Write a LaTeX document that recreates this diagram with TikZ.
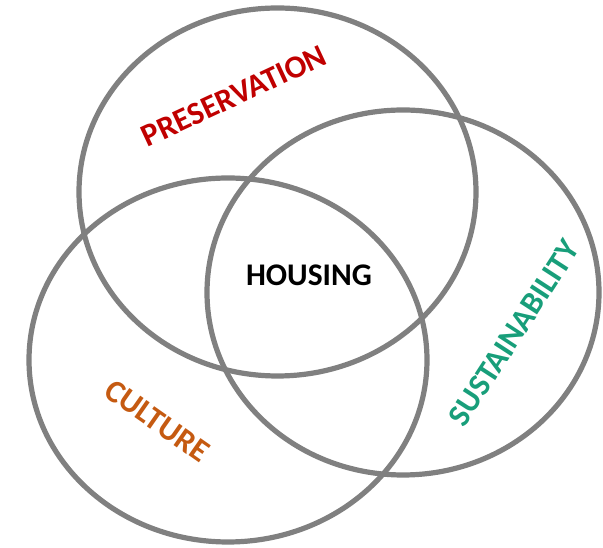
\documentclass[tikz,border=0pt]{standalone}
\usepackage{fontspec}
\setmainfont{Carlito}
\usepackage{tikz}
\definecolor{ringgray}{RGB}{128,128,128}
\definecolor{presred}{RGB}{192,0,0}
\definecolor{cultorange}{RGB}{197,90,17}
\definecolor{sustgreen}{RGB}{24,158,122}

\begin{document}
\begin{tikzpicture}[x=1pt, y=1pt,
    ring/.style={draw=ringgray, line width=5.2pt},
    label/.style={font=\fontsize{32}{32}\selectfont\bfseries, inner sep=0pt}]
            \useasboundingbox (0,0) rectangle (603,548);

            % Three overlapping circles
            \draw[ring] (277.5,356) ellipse [x radius=198.5, y radius=184];
            \draw[ring] (228,188) ellipse [x radius=199, y radius=182];
            \draw[ring] (403,255.5) ellipse [x radius=196, y radius=182.5];

            % Centre
            \node[label, font=\fontsize{31.5}{31.5}\selectfont\bfseries] (housing) at (309,273) {HOUSING};

            % Circle labels
            \node[label, text=presred, rotate=25] (preservation) at (234,452) {PRESERVATION};
            \node[label, text=cultorange, rotate=-35] (culture) at (157,127) {CULTURE};
            \node[label, text=sustgreen, rotate=57] (sustainability) at (514,215) {SUSTAINABILITY};
        \end{tikzpicture}
\end{document}
